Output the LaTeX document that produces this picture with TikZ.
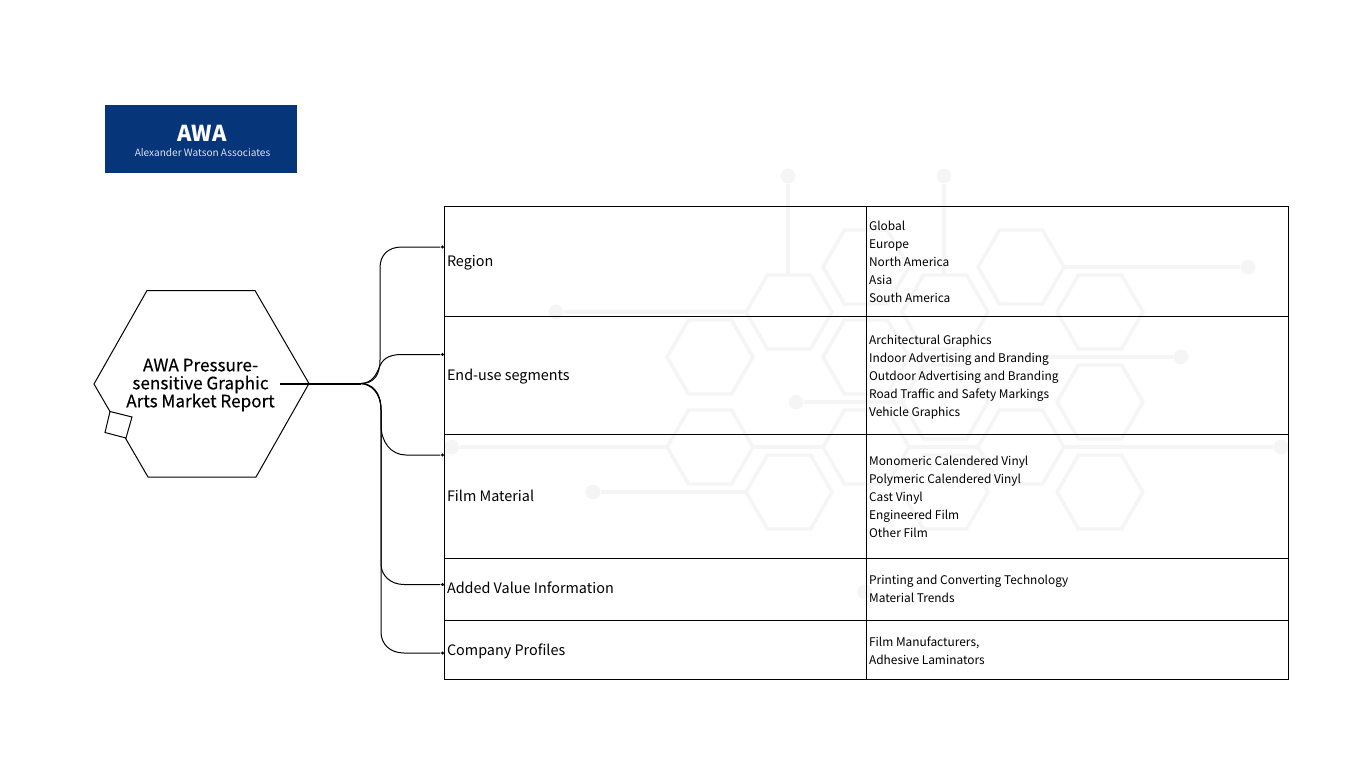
\documentclass[tikz,border=0pt]{standalone}
\usepackage{fontspec}
\setmainfont{Noto Sans CJK SC}
\newfontfamily\titlefont[FakeBold=0.35]{Noto Sans CJK SC}
\definecolor{awablue}{RGB}{6,53,122}
\definecolor{bgline}{RGB}{245,245,245}
\tikzset{every picture/.style={line width=0.75pt}}
\tikzset{
	bghex/.pic={\draw [bgline,line width=2.6pt,fill=white] (-43,0) -- (-21.5,37) -- (21.5,37) -- (43,0) -- (21.5,-37) -- (-21.5,-37) -- cycle ;},
	bgwire/.style={bgline,line width=2.6pt},
	bgdot/.style={circle,fill=bgline,inner sep=0pt,minimum size=11pt},
	rowcell/.style={draw,anchor=north west,inner sep=0pt},
	catlabel/.style={anchor=west,inner sep=0pt,font=\fontsize{10.8pt}{13.5pt}\selectfont},
	itemlabel/.style={anchor=west,inner sep=0pt,align=left,font=\fontsize{8.93pt}{13.5pt}\selectfont},
	branch/.style={line width=0.75pt},
	tipdot/.style={circle,fill=black,inner sep=0pt,minimum size=2.6pt},
}

\begin{document}
\begin{tikzpicture}[x=0.75pt,y=0.75pt,yscale=-1,xscale=1]
	\useasboundingbox (0,0) rectangle (1366,768);
	\fill [white] (0,0) rectangle (1366,768);

	% background wires
	\node [bgdot] (dotA) at (788,176) {};
	\node [bgdot] (dotB) at (944,176) {};
	\node [bgdot] (dotC) at (1248,267) {};
	\node [bgdot] (dotD) at (556,312) {};
	\node [bgdot] (dotE) at (1181,357) {};
	\node [bgdot] (dotF) at (796,402) {};
	\node [bgdot] (dotG) at (452,447) {};
	\node [bgdot] (dotH) at (1281,447) {};
	\node [bgdot] (dotI) at (593,492) {};
	\node [bgdot] (dotJ) at (865,592) {};
	\draw [bgwire] (dotA) -- (788,312);
	\draw [bgwire] (dotB) -- (944,312);
	\draw [bgwire] (dotC) -- (1021,267);
	\draw [bgwire] (dotD) -- (789,312);
	\draw [bgwire] (dotE) -- (1021,357);
	\draw [bgwire] (dotF) -- (945,402);
	\draw [bgwire] (dotG) -- (dotH);
	\draw [bgwire] (dotI) -- (789,492);
	% background hexagons
	\foreach \hx/\hy in {866/267,1021/267,789/312,945/312,1100/312,710/357,866/357,945/402,1100/402,710/447,866/447,1021/447,789/492,945/492,1100/492}
		\path (\hx,\hy) pic {bghex};

	% logo
	\node [fill=awablue,minimum width=144.4pt,minimum height=51.4pt,inner sep=0pt] (logo) at (201,138.9) {};
	\node [white,font=\bfseries\fontsize{16.4pt}{18pt}\selectfont,inner sep=0pt] (logoname) at (202,133) {AWA};
	\node [white!85!awablue,font=\fontsize{7.55pt}{8pt}\selectfont,inner sep=0pt] (logosub) at (202.5,152.5) {Alexander Watson Associates};

	% centre hexagon
	\draw (94,384) -- (147,290.5) -- (255,290.5) -- (309,383.5) -- (256,477) -- (148,477) -- cycle ;
	\draw [fill=white] (110,411.5) -- (132,417) -- (126,438) -- (105,432.5) -- cycle ;
	\node [align=center,inner sep=0pt,font=\titlefont\fontsize{12.85pt}{13.5pt}\selectfont] (title) at (200.5,385) {AWA Pressure-\\sensitive Graphic\\Arts Market Report};
	\coordinate (root) at (280,383.5);
	\coordinate (fork) at (361,383.5);

	% table
	\node [rowcell,minimum width=316.5pt,minimum height=82.5pt] (rowA) at (443.5,205.5) {};
	\node [rowcell,minimum width=316.5pt,minimum height=88.5pt] (rowB) at (443.5,315.5) {};
	\node [rowcell,minimum width=316.5pt,minimum height=93pt] (rowC) at (443.5,434) {};
	\node [rowcell,minimum width=316.5pt,minimum height=46.5pt] (rowD) at (443.5,557.5) {};
	\node [rowcell,minimum width=316.5pt,minimum height=44.6pt] (rowE) at (443.5,619.5) {};
	\node [rowcell,minimum width=316.5pt,minimum height=82.5pt] (valA) at (865.5,205.5) {};
	\node [rowcell,minimum width=316.5pt,minimum height=88.5pt] (valB) at (865.5,315.5) {};
	\node [rowcell,minimum width=316.5pt,minimum height=93pt] (valC) at (865.5,434) {};
	\node [rowcell,minimum width=316.5pt,minimum height=46.5pt] (valD) at (865.5,557.5) {};
	\node [rowcell,minimum width=316.5pt,minimum height=44.6pt] (valE) at (865.5,619.5) {};

	\node [catlabel] (catA) at (446.5,263) {Region};
	\node [catlabel] (catB) at (446.5,377) {End-use segments};
	\node [catlabel] (catC) at (446.5,496) {Film Material};
	\node [catlabel] (catD) at (446.5,588) {Added Value Information};
	\node [catlabel] (catE) at (446.5,651) {Company Profiles};

	\node [itemlabel] (itemA) at (868.6,261.5) {Global\\Europe\\North America\\Asia\\South America};
	\node [itemlabel] (itemB) at (868.6,377.5) {Architectural Graphics\\Indoor Advertising and Branding\\Outdoor Advertising and Branding\\Road Traffic and Safety Markings\\Vehicle Graphics};
	\node [itemlabel] (itemC) at (868.6,496.5) {Monomeric Calendered Vinyl\\Polymeric Calendered Vinyl\\Cast Vinyl\\Engineered Film\\Other Film};
	\node [itemlabel] (itemD) at (868.6,588.5) {Printing and Converting Technology\\Material Trends};
	\node [itemlabel] (itemE) at (868.6,650.5) {Film Manufacturers,\\Adhesive Laminators};

	% branches
	\node [tipdot] (tipA) at (442.5,247) {};
	\node [tipdot] (tipB) at (442.5,354.5) {};
	\node [tipdot] (tipC) at (442.5,455) {};
	\node [tipdot] (tipD) at (442.5,584.5) {};
	\node [tipdot] (tipE) at (442.5,653) {};
	\draw [line width=1.5pt] (root) -- (fork);
	\draw [branch] (fork) .. controls (374,383.5) and (380,375) .. (380,360) -- (380,268) .. controls (380,255) and (388,247) .. (402,247) -- (tipA);
	\draw [branch] (fork) .. controls (372,383) and (376,375) .. (379,368) .. controls (382,360) and (387,354.5) .. (402,354.5) -- (tipB);
	\draw [branch] (fork) .. controls (370,384) and (381,392) .. (381,410) -- (381,425) .. controls (381,442) and (391,455) .. (406,455) -- (tipC);
	\draw [branch] (fork) .. controls (372,384) and (381,392) .. (381,410) -- (381,564) .. controls (381,575) and (390,584.5) .. (404,584.5) -- (tipD);
	\draw [branch] (fork) .. controls (372,384) and (381,392) .. (381,410) -- (381,632) .. controls (381,644) and (390,653) .. (404,653) -- (tipE);
\end{tikzpicture}
\end{document}
